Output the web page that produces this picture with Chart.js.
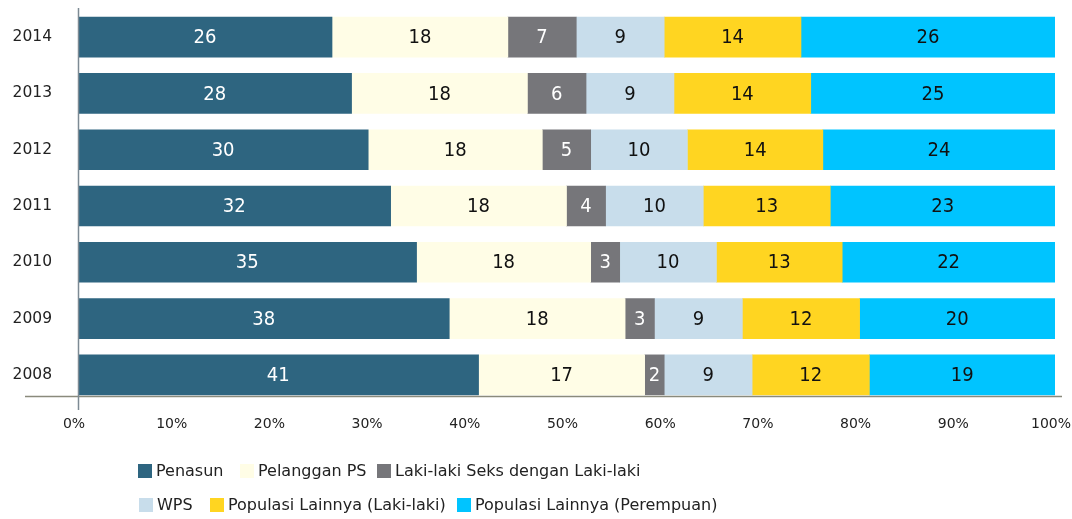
<!DOCTYPE html>
<html>
<head>
<meta charset="utf-8">
<script src="https://cdn.jsdelivr.net/npm/chart.js@4/dist/chart.umd.min.js"></script>
<style>
  body { margin: 0; background: #fff; }
  #wrap { position: relative; width: 1072px; height: 519px; }
  #legend { position: absolute; left: 0; top: 0; font-family: 'DejaVu Sans', sans-serif; font-size: 16px; color: #222; }
  .txt { position: absolute; white-space: nowrap; line-height: 18px; }
  .box { position: absolute; width: 14px; height: 14px; }
</style>
</head>
<body>
<div id="wrap">
  <canvas id="grafico" width="1072" height="519"></canvas>
  <div id="legend"></div>
</div>
<script>
// dados (percentual por ano)
const anos = ['2014', '2013', '2012', '2011', '2010', '2009', '2008'];
const penasun = [26, 28, 30, 32, 35, 38, 41];
const pelangganPS = [18, 18, 18, 18, 18, 18, 17];
const lsl = [7, 6, 5, 4, 3, 3, 2];
const wps = [9, 9, 10, 10, 10, 9, 9];
const popLaki = [14, 14, 14, 13, 13, 12, 12];
const popPerempuan = [26, 25, 24, 23, 22, 20, 19];
const xTicks = [0, 10, 20, 30, 40, 50, 60, 70, 80, 90, 100];

const series = [
  { label: 'Penasun', data: penasun, color: '#2E6580', text: '#fff' },
  { label: 'Pelanggan PS', data: pelangganPS, color: '#FFFDE6', text: '#111' },
  { label: 'Laki-laki Seks dengan Laki-laki', data: lsl, color: '#76767A', text: '#fff' },
  { label: 'WPS', data: wps, color: '#C8DDEB', text: '#111' },
  { label: 'Populasi Lainnya (Laki-laki)', data: popLaki, color: '#FFD521', text: '#111' },
  { label: 'Populasi Lainnya (Perempuan)', data: popPerempuan, color: '#00C4FF', text: '#111' },
];

// totais por ano (alguns somam 101 por arredondamento)
const totais = anos.map((a, i) => series.reduce((s, d) => s + d.data[i], 0));

const fonte = "'DejaVu Sans', sans-serif";
const fonteRotulo = "'DejaVu Sans Condensed', 'DejaVu Sans', sans-serif";

// plugin para escrever os valores dentro das barras
const rotulos = {
  id: 'rotulos',
  afterDatasetsDraw(chart) {
    const ctx = chart.ctx;
    ctx.save();
    ctx.font = '20px ' + fonteRotulo;
    ctx.textAlign = 'center';
    ctx.textBaseline = 'middle';
    chart.data.datasets.forEach((ds, di) => {
      chart.getDatasetMeta(di).data.forEach((bar, i) => {
        const cx = (bar.x + bar.base) / 2;
        ctx.fillStyle = series[di].text;
        ctx.fillText(String(series[di].data[i]), cx, bar.y + 1);
      });
    });
    ctx.restore();
  }
};

// linhas dos eixos
const eixos = {
  id: 'eixos',
  afterDraw(chart) {
    const { ctx, chartArea } = chart;
    ctx.save();
    ctx.lineWidth = 1.5;
    ctx.strokeStyle = '#8a8a7c';
    ctx.beginPath();
    ctx.moveTo(25, chartArea.bottom - 6.5);
    ctx.lineTo(chartArea.right + 7, chartArea.bottom - 6.5);
    ctx.stroke();
    ctx.strokeStyle = '#7d8a94';
    ctx.beginPath();
    ctx.moveTo(chartArea.left + 0.5, chartArea.top - 1);
    ctx.lineTo(chartArea.left + 0.5, chartArea.bottom + 7);
    ctx.stroke();
    ctx.restore();
  }
};

const ctx = document.getElementById('grafico').getContext('2d');
const myChart = new Chart(ctx, {
  type: 'bar',
  data: {
    labels: anos,
    datasets: series.map(s => ({
      label: s.label,
      data: s.data.map((v, i) => v / totais[i] * 100),
      backgroundColor: s.color,
      borderWidth: 0,
      barThickness: 40,
    })),
  },
  options: {
    indexAxis: 'y',
    responsive: false,
    animation: false,
    layout: { padding: 0 },
    plugins: { legend: { display: false }, tooltip: { enabled: false } },
    scales: {
      x: {
        stacked: true,
        min: 0,
        max: 100,
        afterFit: s => { s.height = 116; s.paddingRight = 17; },
        afterBuildTicks: s => { s.ticks = xTicks.map(v => ({ value: v })); },
        grid: { display: false, drawTicks: true, tickLength: 13 },
        border: { display: false },
        ticks: {
          padding: 0,
          labelOffset: -4,
          color: '#222',
          font: { size: 14, family: fonte },
          callback: v => v + '%',
        },
      },
      y: {
        stacked: true,
        afterFit: s => { s.width = 78; s.paddingTop = 9; s.paddingBottom = 0; },
        grid: { display: false, drawTicks: true, tickLength: 26 },
        border: { display: false },
        ticks: {
          padding: 0,
          color: '#222',
          font: { size: 15.5, family: fonte },
        },
      },
    },
  },
  plugins: [rotulos, eixos],
});

// legenda em HTML (duas linhas, alinhada à esquerda)
const posTexto = [[156, 471], [258, 471], [395, 471], [157, 505], [228, 505], [475, 505]];
const leg = document.getElementById('legend');
series.forEach((s, i) => {
  const box = document.createElement('div');
  box.className = 'box';
  box.style.background = s.color;
  box.style.left = (posTexto[i][0] - 18) + 'px';
  box.style.top = (posTexto[i][1] - 7) + 'px';
  leg.appendChild(box);
  const txt = document.createElement('div');
  txt.className = 'txt';
  txt.textContent = s.label;
  txt.style.left = posTexto[i][0] + 'px';
  txt.style.top = (posTexto[i][1] - 9) + 'px';
  leg.appendChild(txt);
});
</script>
</body>
</html>
